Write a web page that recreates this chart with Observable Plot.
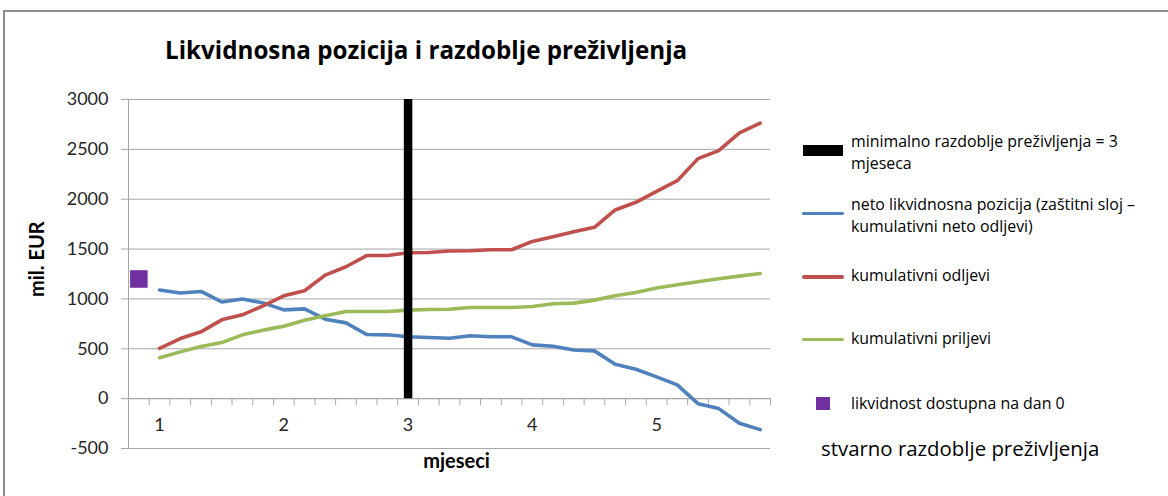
<!DOCTYPE html>
<html>
<head>
<meta charset="utf-8">
<script src="https://cdn.jsdelivr.net/npm/d3@7"></script>
<script src="https://cdn.jsdelivr.net/npm/@observablehq/plot@0.6"></script>
<style>
  body { margin: 0; background: #fff; font-family: Lato, "Open Sans", sans-serif; }
  #wrap { position: relative; width: 1168px; height: 496px; overflow: hidden; background: #fff; }
  #frame { position: absolute; left: 3px; top: 10px; width: 1220px; height: 540px; border: 2px solid #8c8c8c; box-sizing: border-box; }
  #chart { position: absolute; left: 0; top: 0; }
  #title { position: absolute; left: 165px; top: 34px; font-family: "Open Sans", sans-serif; font-weight: bold; font-size: 24.2px; line-height: 32px; white-space: nowrap; color: #000; }
  .lg { position: absolute; white-space: nowrap; font-family: "Open Sans", sans-serif; font-size: 15.9px; line-height: 21.6px; color: #000; }
  .sw { position: absolute; }
</style>
</head>
<body>
<div id="wrap">
  <div id="frame"></div>
  <div id="title">Likvidnosna pozicija i razdoblje preživljenja</div>
  <div id="chart"></div>
  <div id="legend"></div>
</div>
<script>
// ---- data ----
const monthLabels = ["1", "2", "3", "4", "5"];
const monthCategory = [1, 7, 13, 19, 25];          // category index where each month label sits
const categoryCount = 31;                           // day 0 + 30 periods
const periods = d3.range(1, 31);                    // category indices of line points
const netPosition = [1090, 1060, 1075, 970, 1000, 960, 890, 900, 797, 760, 643, 640, 620, 613, 606, 630, 620, 620, 539, 526, 488, 479, 345, 295, 218, 138, -50, -100, -247, -311];
const cumOutflows = [505, 603, 670, 790, 841, 931, 1031, 1082, 1239, 1323, 1435, 1436, 1463, 1466, 1480, 1483, 1493, 1493, 1577, 1624, 1674, 1718, 1892, 1969, 2079, 2186, 2407, 2488, 2665, 2762];
const cumInflows = [410, 469, 522, 562, 640, 687, 727, 787, 831, 874, 874, 874, 888, 894, 897, 914, 914, 914, 924, 951, 958, 988, 1031, 1065, 1109, 1142, 1172, 1202, 1229, 1255];
const day0Liquidity = [{cat: 0, value: 1200}];
const minSurvival = [{cat: 13, value: 3000}];
const yTicks = [-500, 0, 500, 1000, 1500, 2000, 2500, 3000];

const legendItems = [
  {kind: "bar", color: "#000000", text: "minimalno razdoblje preživljenja = 3<br>mjeseca"},
  {kind: "line", color: "#4f81bd", text: "neto likvidnosna pozicija (zaštitni sloj –<br>kumulativni neto odljevi)"},
  {kind: "line", color: "#c0504d", text: "kumulativni odljevi"},
  {kind: "line", color: "#9bbb59", text: "kumulativni priljevi"},
  {kind: "square", color: "#7030a0", text: "likvidnost dostupna na dan 0"}
];
const extraNote = "stvarno razdoblje preživljenja";

// ---- build tables ----
const series = [
  {name: "net", color: "#4f81bd", values: netPosition},
  {name: "out", color: "#c0504d", values: cumOutflows},
  {name: "in", color: "#9bbb59", values: cumInflows}
];
const bounds = d3.range(categoryCount + 1).map(k => k - 0.5);
const monthData = monthCategory.map((c, i) => ({cat: c, label: monthLabels[i]}));
const grid = "#a6a6a6";

const lineMarks = series.map(s =>
  Plot.line(periods.map((c, i) => ({cat: c, value: s.values[i]})), {
    x: "cat", y: "value", stroke: s.color, strokeWidth: 3.6, strokeLinejoin: "round", strokeLinecap: "round"
  })
);

const chart = Plot.plot({
  width: 1168,
  height: 496,
  marginLeft: 128,
  marginRight: 398,
  marginTop: 99,
  marginBottom: 48,
  x: {type: "linear", domain: [-0.5, categoryCount - 0.5], axis: null},
  y: {domain: [-500, 3000], axis: null},
  style: {fontFamily: "Lato, 'Open Sans', sans-serif", background: "transparent", overflow: "visible"},
  marks: [
    Plot.ruleY(yTicks, {stroke: grid, strokeWidth: 1, insetLeft: -7}),
    Plot.ruleX([bounds[0]], {y1: -500, y2: 3000, stroke: grid}),
    Plot.ruleY([0], {stroke: grid}),
    Plot.ruleX(bounds, {y1: 0, y2: 0, insetBottom: -7, stroke: grid}),
    Plot.text(yTicks, {x: bounds[0], y: d => d, text: d => String(d), textAnchor: "end", dx: -20, fontSize: 18, fill: "#262626"}),
    Plot.text(monthData, {x: "cat", y: 0, text: "label", dy: 27, fontSize: 18, fill: "#262626"}),
    ...lineMarks,
    Plot.dot(day0Liquidity, {x: "cat", y: "value", symbol: "square", r: 9.9, fill: "#7030a0"}),
    Plot.ruleX(minSurvival, {x: "cat", y1: 0, y2: "value", stroke: "#000", strokeWidth: 8.5}),
    Plot.text(["mjeseci"], {frameAnchor: "bottom", dx: 7, dy: 19, fontSize: 20, fontWeight: "bold", fill: "#000"}),
    Plot.text(["mil. EUR"], {frameAnchor: "left", dx: -91, dy: 23, rotate: -90, fontSize: 20, fontWeight: "bold", fill: "#000"})
  ]
});
document.getElementById("chart").appendChild(chart);

// ---- legend (HTML) ----
const legendLayout = [
  {top: 131, swTop: 145, swH: 11, swL: 803, swW: 40},
  {top: 194, swTop: 211.5, swH: 3.5, swL: 802, swW: 42},
  {top: 264.5, swTop: 275, swH: 3.5, swL: 802, swW: 42},
  {top: 327.5, swTop: 337.5, swH: 3.5, swL: 802, swW: 42},
  {top: 392.5, swTop: 397, swH: 13, swL: 816, swW: 14}
];
const lg = document.getElementById("legend");
legendItems.forEach((d, i) => {
  const L = legendLayout[i];
  const sw = document.createElement("div");
  sw.className = "sw";
  sw.style.left = L.swL + "px"; sw.style.top = L.swTop + "px";
  sw.style.width = L.swW + "px"; sw.style.height = L.swH + "px";
  sw.style.background = d.color;
  if (d.kind === "line") sw.style.borderRadius = "2px";
  lg.appendChild(sw);
  const t = document.createElement("div");
  t.className = "lg";
  t.style.left = "851px"; t.style.top = L.top + "px";
  t.innerHTML = d.text;
  lg.appendChild(t);
});
const note = document.createElement("div");
note.className = "lg";
note.style.left = "821px"; note.style.top = "435px";
note.style.fontSize = "20.4px"; note.style.lineHeight = "26px";
note.textContent = extraNote;
lg.appendChild(note);
</script>
</body>
</html>
